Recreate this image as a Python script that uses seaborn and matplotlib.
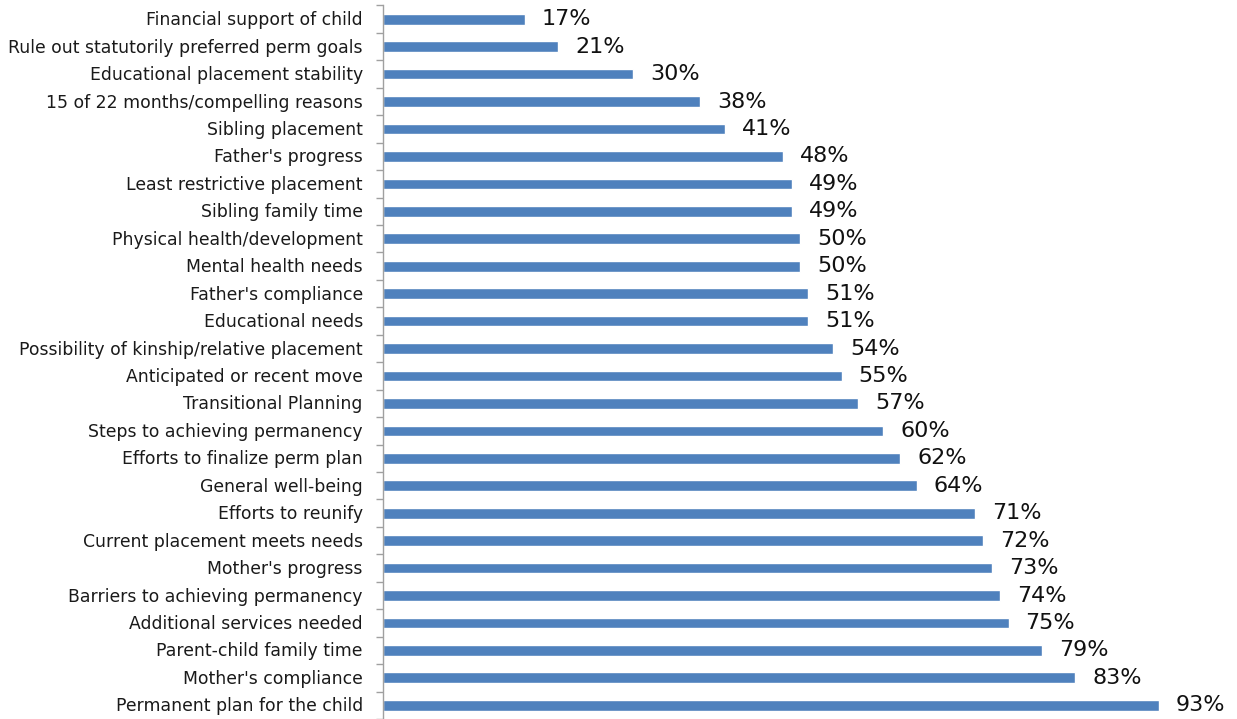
import numpy as np
import pandas as pd
import matplotlib
matplotlib.use("Agg")
import matplotlib.pyplot as plt
import matplotlib.transforms as mtransforms
import seaborn as sns

categories = [
    "Financial support of child",
    "Rule out statutorily preferred perm goals",
    "Educational placement stability",
    "15 of 22 months/compelling reasons",
    "Sibling placement",
    "Father's progress",
    "Least restrictive placement",
    "Sibling family time",
    "Physical health/development",
    "Mental health needs",
    "Father's compliance",
    "Educational needs",
    "Possibility of kinship/relative placement",
    "Anticipated or recent move",
    "Transitional Planning",
    "Steps to achieving permanency",
    "Efforts to finalize perm plan",
    "General well-being",
    "Efforts to reunify",
    "Current placement meets needs",
    "Mother's progress",
    "Barriers to achieving permanency",
    "Additional services needed",
    "Parent-child family time",
    "Mother's compliance",
    "Permanent plan for the child",
]
percent = [17, 21, 30, 38, 41, 48, 49, 49, 50, 50, 51, 51, 54, 55, 57,
           60, 62, 64, 71, 72, 73, 74, 75, 79, 83, 93]

df = pd.DataFrame({"item": categories, "pct": percent})

sns.set_style("white")
plt.rcParams["font.family"] = ["DejaVu Sans"]

fig = plt.figure(figsize=(12.37, 7.19), dpi=100)
ax = fig.add_axes([383 / 1237, 0.0, 834 / 1237, 1 - 5.5 / 719])

sns.barplot(data=df, y="item", x="pct", orient="h", color="#4F81BD",
            saturation=1, width=0.39, ax=ax)

ax.set_xlim(0, 100)
ax.set_ylim(len(categories) - 0.5, -0.5)
ax.set_xlabel("")
ax.set_ylabel("")
ax.set_xticks([])

for s in ["top", "right", "bottom"]:
    ax.spines[s].set_visible(False)
ax.spines["left"].set_color("#A0A0A0")
ax.spines["left"].set_linewidth(1.0)

# category labels at bar centres, tick marks at category boundaries
ax.set_yticks(np.arange(len(categories)))
ax.set_yticklabels(categories, fontsize=12.4, color="#1a1a1a")
ax.tick_params(axis="y", which="major", left=False, length=0, pad=14.5)
nudge = mtransforms.ScaledTranslation(0, 1 / 100, fig.dpi_scale_trans)
for lbl in ax.get_yticklabels():
    lbl.set_transform(lbl.get_transform() + nudge)
ax.set_yticks(np.arange(len(categories) + 1) - 0.5, minor=True)
ax.tick_params(axis="y", which="minor", left=True, length=5, width=1.0,
               color="#A0A0A0", direction="out")

for i, v in enumerate(percent):
    ax.annotate(f"{v}%", xy=(v, i), xytext=(17, 0),
                textcoords="offset pixels", va="center", ha="left",
                fontsize=16, color="#111111")

fig.savefig("out.png", dpi=100)
